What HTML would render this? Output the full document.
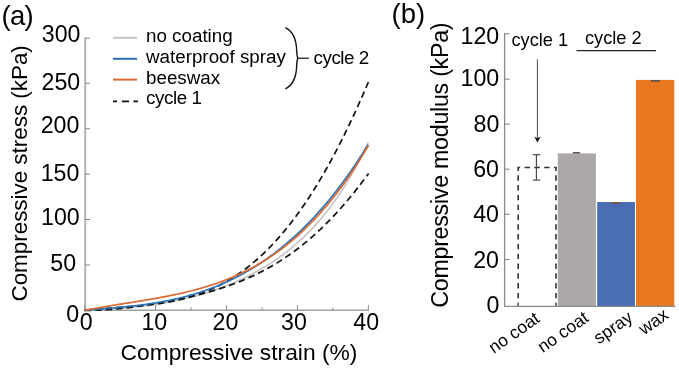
<!DOCTYPE html>
<html><head><meta charset="utf-8"><style>
html,body{margin:0;padding:0;background:#fff;}
body{width:679px;height:368px;overflow:hidden;}
svg{display:block;will-change:transform;font-family:"Liberation Sans", sans-serif;fill:#000;}
text{fill:#000;}
</style></head><body>
<svg width="679" height="368" viewBox="0 0 679 368">
<rect width="679" height="368" fill="#fff"/>
<text x="1.5" y="25.1" font-size="27.5" letter-spacing="-0.7">(a)</text>
<line x1="85.2" y1="37.5" x2="85.2" y2="311" stroke="#b4b4b4" stroke-width="2"/>
<line x1="84.2" y1="310.3" x2="369" y2="310.3" stroke="#a0a0a0" stroke-width="1.6"/>
<line x1="85" y1="38.2" x2="90" y2="38.2" stroke="#888" stroke-width="1"/>
<line x1="85" y1="83.3" x2="90" y2="83.3" stroke="#888" stroke-width="1"/>
<line x1="85" y1="128.7" x2="90" y2="128.7" stroke="#888" stroke-width="1"/>
<line x1="85" y1="174.1" x2="90" y2="174.1" stroke="#888" stroke-width="1"/>
<line x1="85" y1="219.5" x2="90" y2="219.5" stroke="#888" stroke-width="1"/>
<line x1="85" y1="265.0" x2="90" y2="265.0" stroke="#888" stroke-width="1"/>
<line x1="84.7" y1="310" x2="84.7" y2="305.0" stroke="#999" stroke-width="1.2"/>
<line x1="120.2" y1="310" x2="120.2" y2="307.4" stroke="#999" stroke-width="1.2"/>
<line x1="155.6" y1="310" x2="155.6" y2="305.0" stroke="#999" stroke-width="1.2"/>
<line x1="191.1" y1="310" x2="191.1" y2="307.4" stroke="#999" stroke-width="1.2"/>
<line x1="226.5" y1="310" x2="226.5" y2="305.0" stroke="#999" stroke-width="1.2"/>
<line x1="262.0" y1="310" x2="262.0" y2="307.4" stroke="#999" stroke-width="1.2"/>
<line x1="297.5" y1="310" x2="297.5" y2="305.0" stroke="#999" stroke-width="1.2"/>
<line x1="332.9" y1="310" x2="332.9" y2="307.4" stroke="#999" stroke-width="1.2"/>
<line x1="368.4" y1="310" x2="368.4" y2="305.0" stroke="#999" stroke-width="1.2"/>
<text x="80.5" y="42.0" font-size="23.2" text-anchor="end">300</text>
<text x="80.2" y="90.4" font-size="23.2" text-anchor="end">250</text>
<text x="79.4" y="132.8" font-size="23.2" text-anchor="end">200</text>
<text x="79.4" y="181.0" font-size="23.2" text-anchor="end">150</text>
<text x="79.7" y="224.7" font-size="23.2" text-anchor="end">100</text>
<text x="76.1" y="270.7" font-size="23.2" text-anchor="end">50</text>
<text x="79.1" y="321.8" font-size="23.2" text-anchor="end">0</text>
<text x="86.3" y="330" font-size="23.2" text-anchor="middle">0</text>
<text x="154.3" y="330" font-size="23.2" text-anchor="middle">10</text>
<text x="225.5" y="330" font-size="23.2" text-anchor="middle">20</text>
<text x="294.0" y="330" font-size="23.2" text-anchor="middle">30</text>
<text x="366.2" y="330" font-size="23.2" text-anchor="middle">40</text>
<text x="120.5" y="359.5" font-size="22.8">Compressive strain (%)</text>
<text transform="translate(26.6,301.5) rotate(-90)" x="0" y="0" font-size="22.4">Compressive stress (kPa)</text>
<path d="M84.70,310.30L86.70,310.19L88.70,310.08L90.70,309.98L92.70,309.88L94.70,309.77L96.70,309.67L98.70,309.57L100.70,309.46L102.70,309.36L104.70,309.25L106.70,309.14L108.70,309.02L110.70,308.91L112.70,308.78L114.70,308.66L116.70,308.52L118.70,308.38L120.70,308.24L122.70,308.09L124.70,307.93L126.70,307.77L128.70,307.60L130.70,307.42L132.70,307.23L134.70,307.03L136.70,306.83L138.70,306.62L140.70,306.39L142.70,306.16L144.70,305.92L146.70,305.67L148.70,305.41L150.70,305.14L152.70,304.86L154.70,304.56L156.70,304.26L158.70,303.95L160.70,303.62L162.70,303.28L164.70,302.94L166.70,302.58L168.70,302.21L170.70,301.82L172.70,301.43L174.70,301.02L176.70,300.60L178.70,300.17L180.70,299.72L182.70,299.27L184.70,298.79L186.70,298.31L188.70,297.81L190.70,297.30L192.70,296.78L194.70,296.24L196.70,295.69L198.70,295.12L200.70,294.54L202.70,293.95L204.70,293.34L206.70,292.72L208.70,292.08L210.70,291.42L212.70,290.75L214.70,290.07L216.70,289.37L218.70,288.65L220.70,287.92L222.70,287.16L224.70,286.40L226.70,285.61L228.70,284.81L230.70,283.99L232.70,283.15L234.70,282.29L236.70,281.41L238.70,280.51L240.70,279.60L242.70,278.66L244.70,277.70L246.70,276.72L248.70,275.72L250.70,274.70L252.70,273.65L254.70,272.58L256.70,271.49L258.70,270.37L260.70,269.23L262.70,268.06L264.70,266.86L266.70,265.64L268.70,264.39L270.70,263.11L272.70,261.80L274.70,260.46L276.70,259.09L278.70,257.69L280.70,256.26L282.70,254.79L284.70,253.29L286.70,251.75L288.70,250.17L290.70,248.56L292.70,246.91L294.70,245.22L296.70,243.49L298.70,241.71L300.70,239.90L302.70,238.03L304.70,236.13L306.70,234.17L308.70,232.17L310.70,230.12L312.70,228.01L314.70,225.86L316.70,223.65L318.70,221.38L320.70,219.06L322.70,216.67L324.70,214.23L326.70,211.73L328.70,209.16L330.70,206.52L332.70,203.82L334.70,201.05L336.70,198.20L338.70,195.29L340.70,192.29L342.70,189.22L344.70,186.08L346.70,182.84L348.70,179.53L350.70,176.13L352.70,172.64L354.70,169.06L356.70,165.39L358.70,161.62L360.70,157.75L362.70,153.79L364.70,149.72L366.70,145.54L368.20,142.34" fill="none" stroke="#c4c4c4" stroke-width="1.6"/>
<path d="M84.70,310.30L86.70,310.33L88.70,310.34L90.70,310.34L92.70,310.31L94.70,310.27L96.70,310.21L98.70,310.14L100.70,310.05L102.70,309.95L104.70,309.83L106.70,309.70L108.70,309.56L110.70,309.41L112.70,309.24L114.70,309.07L116.70,308.88L118.70,308.69L120.70,308.48L122.70,308.27L124.70,308.04L126.70,307.81L128.70,307.57L130.70,307.32L132.70,307.06L134.70,306.80L136.70,306.53L138.70,306.25L140.70,305.96L142.70,305.67L144.70,305.37L146.70,305.07L148.70,304.75L150.70,304.44L152.70,304.11L154.70,303.78L156.70,303.44L158.70,303.10L160.70,302.75L162.70,302.39L164.70,302.02L166.70,301.65L168.70,301.28L170.70,300.89L172.70,300.50L174.70,300.10L176.70,299.70L178.70,299.28L180.70,298.86L182.70,298.43L184.70,297.99L186.70,297.55L188.70,297.09L190.70,296.63L192.70,296.16L194.70,295.68L196.70,295.18L198.70,294.68L200.70,294.17L202.70,293.65L204.70,293.11L206.70,292.57L208.70,292.01L210.70,291.44L212.70,290.86L214.70,290.26L216.70,289.65L218.70,289.03L220.70,288.39L222.70,287.74L224.70,287.08L226.70,286.40L228.70,285.70L230.70,284.99L232.70,284.26L234.70,283.51L236.70,282.75L238.70,281.97L240.70,281.17L242.70,280.35L244.70,279.51L246.70,278.65L248.70,277.77L250.70,276.87L252.70,275.95L254.70,275.01L256.70,274.05L258.70,273.06L260.70,272.05L262.70,271.02L264.70,269.97L266.70,268.89L268.70,267.78L270.70,266.65L272.70,265.50L274.70,264.31L276.70,263.11L278.70,261.87L280.70,260.61L282.70,259.32L284.70,258.00L286.70,256.65L288.70,255.28L290.70,253.88L292.70,252.44L294.70,250.98L296.70,249.48L298.70,247.96L300.70,246.40L302.70,244.81L304.70,243.19L306.70,241.54L308.70,239.86L310.70,238.14L312.70,236.39L314.70,234.61L316.70,232.79L318.70,230.94L320.70,229.05L322.70,227.14L324.70,225.18L326.70,223.19L328.70,221.17L330.70,219.11L332.70,217.02L334.70,214.89L336.70,212.73L338.70,210.53L340.70,208.29L342.70,206.02L344.70,203.72L346.70,201.38L348.70,199.00L350.70,196.58L352.70,194.13L354.70,191.65L356.70,189.13L358.70,186.57L360.70,183.98L362.70,181.35L364.70,178.69L366.70,175.99L368.60,173.40" fill="none" stroke="#111" stroke-width="1.7" stroke-dasharray="6.5,4"/>
<path d="M84.70,310.30L86.70,310.08L88.70,309.87L90.70,309.67L92.70,309.48L94.70,309.30L96.70,309.12L98.70,308.95L100.70,308.78L102.70,308.62L104.70,308.47L106.70,308.31L108.70,308.17L110.70,308.02L112.70,307.88L114.70,307.73L116.70,307.59L118.70,307.45L120.70,307.31L122.70,307.17L124.70,307.02L126.70,306.87L128.70,306.72L130.70,306.57L132.70,306.41L134.70,306.24L136.70,306.07L138.70,305.89L140.70,305.71L142.70,305.52L144.70,305.31L146.70,305.10L148.70,304.88L150.70,304.65L152.70,304.41L154.70,304.16L156.70,303.89L158.70,303.61L160.70,303.31L162.70,303.00L164.70,302.68L166.70,302.34L168.70,301.98L170.70,301.61L172.70,301.21L174.70,300.80L176.70,300.37L178.70,299.92L180.70,299.45L182.70,298.95L184.70,298.44L186.70,297.90L188.70,297.34L190.70,296.75L192.70,296.14L194.70,295.51L196.70,294.84L198.70,294.15L200.70,293.44L202.70,292.69L204.70,291.92L206.70,291.12L208.70,290.28L210.70,289.42L212.70,288.53L214.70,287.60L216.70,286.64L218.70,285.65L220.70,284.63L222.70,283.57L224.70,282.47L226.70,281.34L228.70,280.18L230.70,278.97L232.70,277.73L234.70,276.46L236.70,275.14L238.70,273.78L240.70,272.39L242.70,270.95L244.70,269.48L246.70,267.96L248.70,266.40L250.70,264.80L252.70,263.16L254.70,261.47L256.70,259.74L258.70,257.97L260.70,256.15L262.70,254.29L264.70,252.38L266.70,250.42L268.70,248.42L270.70,246.37L272.70,244.27L274.70,242.12L276.70,239.93L278.70,237.69L280.70,235.39L282.70,233.05L284.70,230.66L286.70,228.22L288.70,225.72L290.70,223.18L292.70,220.58L294.70,217.94L296.70,215.24L298.70,212.48L300.70,209.68L302.70,206.82L304.70,203.91L306.70,200.94L308.70,197.92L310.70,194.84L312.70,191.71L314.70,188.53L316.70,185.29L318.70,182.00L320.70,178.65L322.70,175.24L324.70,171.78L326.70,168.26L328.70,164.69L330.70,161.06L332.70,157.37L334.70,153.63L336.70,149.83L338.70,145.97L340.70,142.06L342.70,138.09L344.70,134.06L346.70,129.97L348.70,125.83L350.70,121.63L352.70,117.37L354.70,113.06L356.70,108.69L358.70,104.26L360.70,99.78L362.70,95.23L364.70,90.64L366.70,85.98L368.40,81.98" fill="none" stroke="#111" stroke-width="1.7" stroke-dasharray="6.5,4"/>
<path d="M84.70,310.30L86.70,310.13L88.70,309.96L90.70,309.80L92.70,309.63L94.70,309.47L96.70,309.31L98.70,309.14L100.70,308.98L102.70,308.82L104.70,308.66L106.70,308.49L108.70,308.32L110.70,308.16L112.70,307.98L114.70,307.81L116.70,307.63L118.70,307.45L120.70,307.26L122.70,307.07L124.70,306.87L126.70,306.67L128.70,306.46L130.70,306.24L132.70,306.02L134.70,305.79L136.70,305.56L138.70,305.31L140.70,305.06L142.70,304.80L144.70,304.53L146.70,304.25L148.70,303.96L150.70,303.66L152.70,303.35L154.70,303.04L156.70,302.71L158.70,302.36L160.70,302.01L162.70,301.65L164.70,301.27L166.70,300.88L168.70,300.48L170.70,300.06L172.70,299.63L174.70,299.19L176.70,298.74L178.70,298.27L180.70,297.78L182.70,297.28L184.70,296.76L186.70,296.23L188.70,295.68L190.70,295.12L192.70,294.54L194.70,293.95L196.70,293.33L198.70,292.70L200.70,292.05L202.70,291.39L204.70,290.70L206.70,290.00L208.70,289.28L210.70,288.54L212.70,287.78L214.70,287.00L216.70,286.20L218.70,285.38L220.70,284.54L222.70,283.68L224.70,282.79L226.70,281.89L228.70,280.97L230.70,280.02L232.70,279.05L234.70,278.06L236.70,277.04L238.70,276.01L240.70,274.95L242.70,273.86L244.70,272.75L246.70,271.62L248.70,270.47L250.70,269.28L252.70,268.08L254.70,266.85L256.70,265.59L258.70,264.30L260.70,262.99L262.70,261.66L264.70,260.29L266.70,258.90L268.70,257.49L270.70,256.04L272.70,254.57L274.70,253.06L276.70,251.53L278.70,249.97L280.70,248.38L282.70,246.76L284.70,245.11L286.70,243.43L288.70,241.72L290.70,239.98L292.70,238.21L294.70,236.40L296.70,234.57L298.70,232.70L300.70,230.79L302.70,228.86L304.70,226.89L306.70,224.88L308.70,222.85L310.70,220.77L312.70,218.67L314.70,216.52L316.70,214.34L318.70,212.13L320.70,209.88L322.70,207.59L324.70,205.26L326.70,202.90L328.70,200.49L330.70,198.05L332.70,195.57L334.70,193.05L336.70,190.49L338.70,187.89L340.70,185.25L342.70,182.56L344.70,179.84L346.70,177.07L348.70,174.26L350.70,171.41L352.70,168.51L354.70,165.57L356.70,162.58L358.70,159.55L360.70,156.47L362.70,153.34L364.70,150.17L366.70,146.95L368.10,144.67" fill="none" stroke="#2a72b8" stroke-width="1.7"/>
<path d="M84.70,310.30L86.70,309.92L88.70,309.55L90.70,309.19L92.70,308.83L94.70,308.47L96.70,308.12L98.70,307.77L100.70,307.43L102.70,307.09L104.70,306.75L106.70,306.41L108.70,306.08L110.70,305.75L112.70,305.43L114.70,305.10L116.70,304.78L118.70,304.46L120.70,304.14L122.70,303.82L124.70,303.50L126.70,303.18L128.70,302.86L130.70,302.54L132.70,302.22L134.70,301.90L136.70,301.57L138.70,301.25L140.70,300.92L142.70,300.59L144.70,300.26L146.70,299.92L148.70,299.58L150.70,299.24L152.70,298.89L154.70,298.54L156.70,298.18L158.70,297.82L160.70,297.45L162.70,297.08L164.70,296.70L166.70,296.31L168.70,295.91L170.70,295.51L172.70,295.10L174.70,294.68L176.70,294.26L178.70,293.82L180.70,293.37L182.70,292.92L184.70,292.45L186.70,291.98L188.70,291.49L190.70,290.99L192.70,290.48L194.70,289.96L196.70,289.42L198.70,288.87L200.70,288.31L202.70,287.73L204.70,287.14L206.70,286.53L208.70,285.91L210.70,285.27L212.70,284.62L214.70,283.95L216.70,283.27L218.70,282.56L220.70,281.84L222.70,281.10L224.70,280.34L226.70,279.56L228.70,278.76L230.70,277.94L232.70,277.11L234.70,276.25L236.70,275.36L238.70,274.46L240.70,273.53L242.70,272.59L244.70,271.61L246.70,270.62L248.70,269.60L250.70,268.55L252.70,267.48L254.70,266.39L256.70,265.26L258.70,264.11L260.70,262.94L262.70,261.73L264.70,260.50L266.70,259.24L268.70,257.95L270.70,256.63L272.70,255.28L274.70,253.90L276.70,252.49L278.70,251.05L280.70,249.57L282.70,248.06L284.70,246.52L286.70,244.95L288.70,243.34L290.70,241.70L292.70,240.02L294.70,238.31L296.70,236.56L298.70,234.77L300.70,232.95L302.70,231.08L304.70,229.19L306.70,227.25L308.70,225.27L310.70,223.25L312.70,221.20L314.70,219.10L316.70,216.96L318.70,214.78L320.70,212.56L322.70,210.29L324.70,207.98L326.70,205.63L328.70,203.23L330.70,200.79L332.70,198.30L334.70,195.77L336.70,193.19L338.70,190.56L340.70,187.88L342.70,185.16L344.70,182.39L346.70,179.57L348.70,176.70L350.70,173.78L352.70,170.81L354.70,167.79L356.70,164.71L358.70,161.59L360.70,158.41L362.70,155.17L364.70,151.89L366.70,148.55L368.60,145.32" fill="none" stroke="#dc6a32" stroke-width="1.7"/>
<line x1="113" y1="37.8" x2="137" y2="37.8" stroke="#c4c4c4" stroke-width="2"/>
<line x1="113" y1="58.8" x2="137" y2="58.8" stroke="#2a72b8" stroke-width="2"/>
<line x1="113" y1="79.6" x2="137" y2="79.6" stroke="#dc6a32" stroke-width="2"/>
<line x1="113" y1="101.3" x2="138" y2="101.3" stroke="#111" stroke-width="1.7" stroke-dasharray="4,5,7,4.5,4.5"/>
<text x="146" y="42.3" font-size="18.8">no coating</text>
<text x="146" y="62.8" font-size="18.8">waterproof spray</text>
<text x="146" y="84" font-size="18.8">beeswax</text>
<text x="146" y="104.4" font-size="18.8" letter-spacing="-0.4">cycle 1</text>
<path d="M285.3,27.7 C292.5,31 296.4,40 296.7,51 Q296.9,56 297.7,58.2 Q296.9,60.4 296.7,65.4 C296.4,76.5 292.5,85.5 285.3,88.8" fill="none" stroke="#111" stroke-width="1.4"/>
<line x1="297.6" y1="58.2" x2="308.9" y2="58.2" stroke="#111" stroke-width="1.2"/>
<text x="313.5" y="64.2" font-size="18.8" letter-spacing="-0.45">cycle 2</text>
<text x="391.5" y="23.1" font-size="27.5">(b)</text>
<text transform="translate(447.5,307.8) rotate(-90)" x="0" y="0" font-size="23.3" letter-spacing="-0.3">Compressive modulus (kPa)</text>
<rect x="557.8" y="153.4" width="38.1" height="152.9" fill="#aca8a7"/>
<rect x="597.2" y="202" width="37.8" height="104.3" fill="#4a6db3"/>
<rect x="636" y="79.9" width="38.3" height="226.4" fill="#e8771f"/>
<path d="M518.2,306.3 L518.2,167.5 L556,167.5 L556,306.3" fill="none" stroke="#333" stroke-width="1.6" stroke-dasharray="5.4,4.4" stroke-dashoffset="1.8"/>
<line x1="504.6" y1="33.2" x2="504.6" y2="306.8" stroke="#8a8a8a" stroke-width="1.3"/>
<line x1="504.2" y1="306.3" x2="675.3" y2="306.3" stroke="#8a8a8a" stroke-width="1.3"/>
<line x1="504.6" y1="33.8" x2="509.7" y2="33.8" stroke="#8a8a8a" stroke-width="1.1"/>
<line x1="504.6" y1="79.2" x2="509.7" y2="79.2" stroke="#8a8a8a" stroke-width="1.1"/>
<line x1="504.6" y1="124.1" x2="509.7" y2="124.1" stroke="#8a8a8a" stroke-width="1.1"/>
<line x1="504.6" y1="169.2" x2="509.7" y2="169.2" stroke="#8a8a8a" stroke-width="1.1"/>
<line x1="504.6" y1="214.3" x2="509.7" y2="214.3" stroke="#8a8a8a" stroke-width="1.1"/>
<line x1="504.6" y1="259.5" x2="509.7" y2="259.5" stroke="#8a8a8a" stroke-width="1.1"/>
<line x1="518.3" y1="306" x2="518.3" y2="302.5" stroke="#8a8a8a" stroke-width="1"/>
<line x1="555.8" y1="306" x2="555.8" y2="302.5" stroke="#8a8a8a" stroke-width="1"/>
<text x="499.2" y="44.1" font-size="23.2" text-anchor="end">120</text>
<text x="499.2" y="86.3" font-size="23.2" text-anchor="end">100</text>
<text x="499.3" y="131.8" font-size="23.2" text-anchor="end">80</text>
<text x="499.0" y="177.4" font-size="23.2" text-anchor="end">60</text>
<text x="499.0" y="221.6" font-size="23.2" text-anchor="end">40</text>
<text x="499.0" y="268.4" font-size="23.2" text-anchor="end">20</text>
<text x="499.3" y="313.3" font-size="23.2" text-anchor="end">0</text>
<g stroke="#444" stroke-width="1.15"><line x1="536.4" y1="154.7" x2="536.4" y2="180.1"/><line x1="532.8" y1="154.7" x2="540.2" y2="154.7"/><line x1="532.8" y1="180.1" x2="540.2" y2="180.1"/></g>
<line x1="572.8" y1="152.8" x2="580.1" y2="152.8" stroke="#555" stroke-width="1.5"/>
<line x1="611" y1="203" x2="620.8" y2="203" stroke="#8a4a20" stroke-width="1.3"/>
<line x1="651" y1="80.9" x2="660" y2="80.9" stroke="#555" stroke-width="1.6"/>
<line x1="537.4" y1="59.3" x2="537.4" y2="139" stroke="#4a4a4a" stroke-width="1"/>
<path d="M534.2,136.5 L537.4,142.6 L540.8,136.5 L537.4,138.3 Z" fill="#111"/>
<text x="511.5" y="45.6" font-size="18.2">cycle 1</text>
<text x="585" y="43.6" font-size="18.2">cycle 2</text>
<line x1="576.6" y1="50.6" x2="655.9" y2="50.6" stroke="#222" stroke-width="1.4"/>
<text transform="translate(533.5,310.5) rotate(-35)" x="0" y="0" font-size="17.5" text-anchor="end" dominant-baseline="hanging">no coat</text>
<text transform="translate(582.5,309.8) rotate(-35)" x="0" y="0" font-size="17.5" text-anchor="end" dominant-baseline="hanging">no coat</text>
<text transform="translate(626.5,309.5) rotate(-35)" x="0" y="0" font-size="17.5" text-anchor="end" dominant-baseline="hanging">spray</text>
<text transform="translate(662.5,307.0) rotate(-35)" x="0" y="0" font-size="17.8" text-anchor="end" dominant-baseline="hanging">wax</text>
</svg>
</body></html>
